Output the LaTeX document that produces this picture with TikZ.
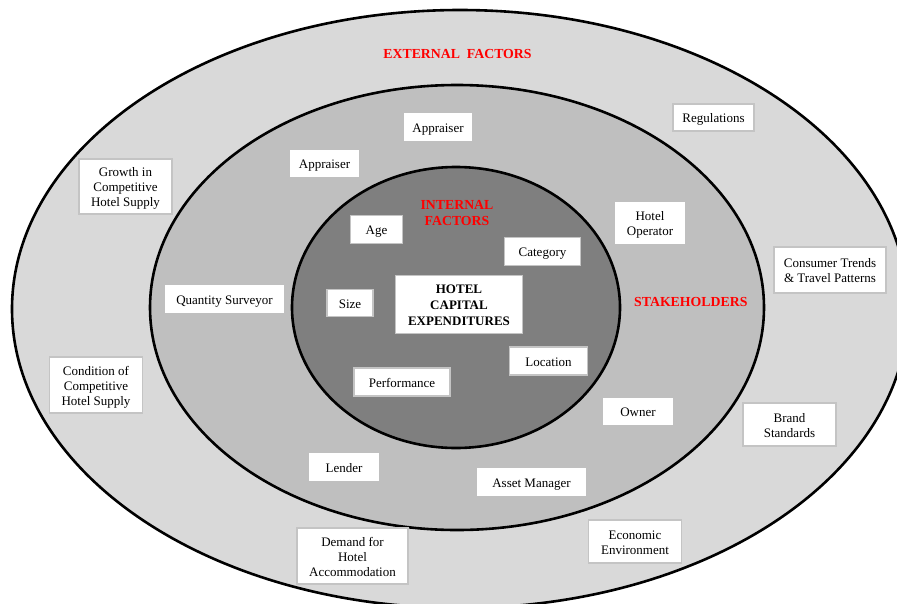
\documentclass[tikz,border=0pt]{standalone}
\usepackage{fontspec}
\setmainfont{Liberation Serif}
\definecolor{ringA}{HTML}{D9D9D9}
\definecolor{ringB}{HTML}{BFBFBF}
\definecolor{ringC}{HTML}{7F7F7F}
\definecolor{boxline}{HTML}{C4C4C4}
\definecolor{lblred}{HTML}{FF0000}
\newcommand{\tstrut}{\rule{0pt}{13.5pt}}
\newcommand{\bstrut}{\rule[-3.5pt]{0pt}{3.5pt}}
\begin{document}
\begin{tikzpicture}[x=1pt,y=-1pt,
  ring/.style={draw=black,line width=2.6pt},
  struts/.style={execute at begin node=\tstrut,execute at end node=\bstrut},
  fbox/.style={draw=boxline,line width=1.3pt,fill=white,align=center,inner sep=0pt,
     struts,font=\fontsize{13}{15}\selectfont},
  sbox/.style={fbox,draw=white},
  redlbl/.style={text=lblred,font=\fontsize{13.8}{16}\selectfont\bfseries,align=center,
     inner sep=0pt,struts},
  corebox/.style={fbox,font=\fontsize{13}{16}\selectfont\bfseries}]
\useasboundingbox (0,0) rectangle (897,603);
\clip (0,0) rectangle (897,603);
\fill[white] (0,0) rectangle (897,603);
% rings
\draw[ring,fill=ringA] (460,309) ellipse [x radius=448, y radius=299];
\draw[ring,fill=ringB] (457,307.5) ellipse [x radius=307, y radius=222.5];
\draw[ring,fill=ringC] (456,307.5) ellipse [x radius=164, y radius=140.5];
% labels
\node[redlbl] (ext) at (457.5,53.3) {EXTERNAL\ \ FACTORS};
\node[redlbl] (int) at (457,212) {\tstrut INTERNAL\\FACTORS};
\node[redlbl] (stk) at (690.8,301.7) {STAKEHOLDERS};
% core
\node[corebox,minimum width=127,minimum height=58] (core) at (459,304.5) {\tstrut HOTEL\\CAPITAL\\EXPENDITURES};
% internal factors
\node[fbox,minimum width=52,minimum height=28] (age) at (376.5,229.5) {Age};
\node[fbox,minimum width=76,minimum height=28] (cat) at (542.5,251.5) {Category};
\node[fbox,minimum width=46,minimum height=27] (size) at (350,303) {Size};
\node[fbox,minimum width=78,minimum height=28] (loc) at (548.5,361) {Location};
\node[fbox,minimum width=96,minimum height=28] (perf) at (402,382) {Performance};
% stakeholders
\node[sbox,minimum width=67,minimum height=26] (app1) at (438,127) {Appraiser};
\node[sbox,minimum width=67,minimum height=26] (app2) at (324.5,163.5) {Appraiser};
\node[sbox,minimum width=68,minimum height=40] (hop) at (650,223) {\tstrut Hotel\\Operator};
\node[sbox,minimum width=117,minimum height=26] (qs) at (224.5,299) {Quantity Surveyor};
\node[sbox,minimum width=68,minimum height=26] (own) at (638,411.5) {Owner};
\node[sbox,minimum width=68,minimum height=26] (lend) at (344,467) {Lender};
\node[sbox,minimum width=107,minimum height=26] (am) at (531.5,482) {Asset Manager};
% external factors
\node[fbox,minimum width=81,minimum height=27] (reg) at (713.5,117.5) {Regulations};
\node[fbox,minimum width=93,minimum height=55] (grow) at (125.5,186.5) {\tstrut Growth in\\Competitive\\Hotel Supply};
\node[fbox,minimum width=112,minimum height=46] (cons) at (830,270) {\tstrut Consumer Trends\\\&~Travel Patterns};
\node[fbox,minimum width=93,minimum height=56] (cond) at (96,385) {\tstrut Condition of\\Competitive\\Hotel Supply};
\node[fbox,minimum width=93,minimum height=43] (brand) at (789.5,424.5) {\tstrut Brand\\Standards};
\node[fbox,minimum width=93,minimum height=43] (econ) at (635,541.5) {\tstrut Economic\\Environment};
\node[fbox,minimum width=111,minimum height=56] (dem) at (352.5,556) {\tstrut Demand for\\Hotel\\Accommodation};
\end{tikzpicture}
\end{document}
